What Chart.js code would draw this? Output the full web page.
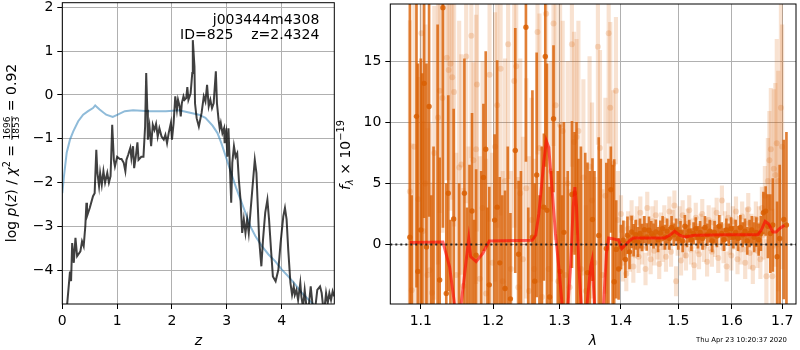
<!DOCTYPE html>
<html>
<head>
<meta charset="utf-8">
<script src="https://cdn.jsdelivr.net/npm/chart.js@4.4.0/dist/chart.umd.min.js"></script>
<style>
  html, body { margin: 0; padding: 0; background: #fff; }
  #wrap { position: relative; width: 800px; height: 350px; }
  canvas { position: absolute; top: 0; }
</style>
</head>
<body>
<div id="wrap">
  <canvas id="pz" width="336" height="350" style="left:0"></canvas>
  <canvas id="sp" width="464" height="350" style="left:336px"></canvas>
</div>
<script>
// ---- p(z) panel: [z, log p] ----
const pzCurve = [
  [0.08,-4.9],[0.14,-4.03],[0.16,-4.25],[0.18,-3.38],[0.21,-3.83],[0.24,-3.26],[0.27,-3.68],[0.33,-3.57],
  [0.36,-3.34],[0.39,-3.45],[0.42,-2.99],[0.44,-2.46],[0.45,-2.77],[0.50,-2.58],[0.56,-2.31],[0.59,-2.24],
  [0.62,-1.25],[0.64,-1.78],[0.67,-2.08],[0.69,-1.78],[0.72,-2.05],[0.75,-1.74],[0.78,-2.00],[0.82,-1.78],
  [0.85,-2.00],[0.88,-1.85],[0.89,-1.48],[0.91,-0.68],[0.94,-1.48],[0.96,-1.63],[1.00,-1.41],[1.05,-1.46],
  [1.08,-1.46],[1.12,-1.55],[1.15,-1.74],[1.17,-1.48],[1.20,-1.37],[1.24,-1.21],[1.26,-1.44],[1.29,-1.17],
  [1.31,-1.67],[1.34,-1.41],[1.37,-1.08],[1.39,-1.48],[1.44,-1.41],[1.48,-1.41],[1.51,-0.72],[1.53,0.50],
  [1.55,-0.34],[1.56,-1.02],[1.59,-0.72],[1.62,-1.17],[1.65,-0.68],[1.68,-0.80],[1.71,-0.66],[1.74,-0.95],
  [1.77,-0.76],[1.81,-0.95],[1.85,-1.02],[1.88,-0.91],[1.91,-1.10],[1.94,-0.87],[1.98,-0.64],[2.00,-1.02],
  [2.03,-0.64],[2.06,-0.03],[2.09,-0.34],[2.11,-0.11],[2.14,-0.26],[2.16,-0.49],[2.18,-0.19],[2.21,-0.03],
  [2.23,-0.11],[2.26,-0.07],[2.28,0.18],[2.30,-0.11],[2.34,0.04],[2.37,0.50],[2.38,1.25],[2.41,0.65],
  [2.42,-0.19],[2.45,-0.53],[2.49,-0.72],[2.54,-0.41],[2.58,-0.03],[2.61,-0.15],[2.64,0.23],[2.67,-0.26],
  [2.70,-0.11],[2.73,-0.30],[2.76,-0.19],[2.80,0.54],[2.82,-0.19],[2.85,-0.57],[2.87,-0.76],[2.89,-0.64],
  [2.92,-0.87],[2.95,-0.76],[2.96,-1.10],[2.99,-0.87],[3.01,-1.41],[3.03,-0.76],[3.06,-1.78],[3.08,-2.46],
  [3.10,-1.55],[3.13,-1.17],[3.16,-1.41],[3.19,-1.33],[3.22,-1.94],[3.25,-2.39],[3.28,-3.15],[3.31,-2.84],
  [3.34,-3.15],[3.37,-2.84],[3.40,-3.15],[3.43,-2.69],[3.47,-2.08],[3.51,-1.48],[3.54,-1.78],[3.57,-2.69],
  [3.59,-3.30],[3.63,-3.91],[3.66,-3.30],[3.70,-2.69],[3.74,-2.39],[3.77,-2.84],[3.81,-3.60],[3.84,-4.14],
  [3.89,-4.25],[3.94,-3.99],[3.98,-3.38],[4.03,-2.77],[4.06,-2.58],[4.09,-2.84],[4.12,-3.53],[4.16,-4.29],
  [4.19,-4.56],[4.22,-4.37],[4.24,-4.56],[4.27,-4.45],[4.30,-4.68],[4.34,-4.29],[4.36,-4.60],[4.39,-4.85],
  [4.42,-4.45],[4.45,-4.80],[4.48,-5.0],[4.53,-4.37],[4.56,-4.75],[4.60,-5.0],[4.65,-4.45],[4.70,-4.37],
  [4.73,-4.52],[4.77,-5.0],[4.81,-4.52],[4.84,-4.75],[4.87,-4.52],[4.90,-4.68],[4.93,-4.48],[4.96,-4.6]
];
const priorCurve = [
  [0.00,-2.24],[0.03,-1.86],[0.08,-1.32],[0.14,-1.02],[0.20,-0.83],[0.29,-0.60],[0.38,-0.45],[0.47,-0.37],
  [0.56,-0.30],[0.60,-0.24],[0.68,-0.33],[0.80,-0.45],[0.92,-0.50],[1.01,-0.45],[1.14,-0.37],[1.29,-0.35],
  [1.59,-0.37],[1.89,-0.37],[2.13,-0.35],[2.31,-0.40],[2.49,-0.45],[2.61,-0.52],[2.74,-0.70],[2.83,-0.87],
  [2.90,-1.10],[2.98,-1.40],[3.04,-1.63],[3.10,-1.86],[3.17,-2.12],[3.25,-2.39],[3.34,-2.69],[3.43,-3.00],
  [3.52,-3.22],[3.64,-3.45],[3.76,-3.64],[3.88,-3.79],[4.00,-3.98],[4.12,-4.14],[4.25,-4.33],[4.37,-4.52],
  [4.49,-4.67],[4.58,-4.78],[4.73,-4.97],[4.96,-5.24]
];
const zTicks = [0, 1, 2, 3, 4];
const logpTicks = [-4, -3, -2, -1, 0, 1, 2];

// ---- spectrum panel: [wavelength, flux, error] ----
const darkSpec = [
  [1.0856,0.6,20],[1.0880,-6,10],[1.0943,10.5,14],[1.0961,-2.2,17],[1.1000,1.2,14],[1.1020,-6,20],
  [1.1044,13.2,11],[1.1075,-0.2,15],[1.1110,11.3,9],[1.1140,-7,11],[1.1170,-6,14],[1.1225,-6,24],
  [1.1253,-2.9,10],[1.1297,19.4,18],[1.1343,-4.0,9],[1.1370,4.2,8],[1.1400,-7,9],[1.1444,2.1,9],
  [1.1520,-6,11],[1.1593,4.2,11],[1.1630,-7,10],[1.1665,-5.5,12],[1.1700,2.75,8],[1.1730,-6,8],
  [1.1758,-0.87,7],[1.1830,-7,13],[1.1862,5.5,6],[1.1895,7.8,8],[1.1920,-6,9],[1.1946,-3.3,8],
  [1.2023,2.0,7],[1.2060,3.06,12],[1.2097,-1.5,7],[1.2135,-6,10],[1.2175,-3.6,8],[1.2215,-6,14],
  [1.2254,-4.45,7],[1.2326,7.7,10],[1.2375,-0.8,6],[1.2410,-6,12],[1.2485,17.8,11],[1.2520,-6,9],
  [1.2583,0.6,12],[1.2618,-3.0,8],[1.2648,5.7,10],[1.2690,-6,10],[1.2725,-6,14],[1.2758,3.06,6],
  [1.2780,15.4,9],[1.2806,2.8,12],[1.2846,-4.3,9],[1.2875,-6,12],[1.2907,10.3,6],[1.2975,-6,12],
  [1.3010,-2.2,12],[1.3040,-6,10],[1.3070,1.0,9],[1.3130,-6,12],[1.3197,4.1,6],[1.3238,4.2,5],
  [1.3270,-6,16],[1.3300,-5,12],[1.3340,-6,14],[1.3410,-5.5,13],[1.3446,-2.3,9],[1.3485,-6,12],
  [1.3527,2.05,5],[1.3560,-6,12],[1.3630,0.75,8],[1.3665,-6,13],[1.3755,-0.33,7],[1.3790,-6,13],
  [1.3830,4.5,3.5],[1.3860,-5.5,12],[1.3886,-3.05,10],
  [1.3920,-0.4,4],[1.3960,-2.0,2.5],[1.4000,-0.2,1.8],[1.4040,0.35,1.6],[1.4075,-1.22,1.5],[1.4110,0.76,1.5],
  [1.4145,-0.6,1.4],[1.4180,1.03,1.3],[1.4215,0.35,1.3],[1.4250,0.8,1.2],[1.4290,0.2,1.2],[1.4325,0.9,1.2],
  [1.4360,0.57,1.1],[1.4400,1.22,1.1],[1.4440,0.62,1.1],[1.4480,1.17,1.1],[1.4520,0.9,1.0],[1.4560,0.7,1.0],
  [1.4600,1.03,1.0],[1.4640,0.4,1.0],[1.4680,0.95,1.0],[1.4720,1.3,1.0],[1.4760,0.6,1.0],[1.4800,1.1,1.0],
  [1.4840,0.5,0.9],[1.4880,1.4,0.9],[1.4920,0.8,0.9],[1.4960,1.2,0.9],[1.5000,0.5,0.9],[1.5040,1.0,0.9],
  [1.5080,0.3,0.9],[1.5120,1.5,0.9],[1.5160,0.7,0.9],[1.5200,1.1,0.9],[1.5240,0.4,0.9],[1.5280,0.9,0.9],
  [1.5320,1.3,0.9],[1.5360,0.6,0.9],[1.5400,1.0,0.9],[1.5445,0.5,0.9],[1.5490,1.4,0.9],[1.5535,0.8,0.9],
  [1.5580,1.1,0.9],[1.5625,0.3,0.9],[1.5670,1.0,0.9],[1.5715,0.7,0.9],[1.5760,1.5,0.9],[1.5805,0.9,0.9],
  [1.5850,0.4,0.9],[1.5895,1.2,0.9],[1.5940,0.8,0.9],[1.5985,1.3,0.9],[1.6030,0.6,0.9],[1.6075,1.0,1.0],
  [1.6120,0.5,1.0],[1.6165,1.4,1.0],[1.6210,0.8,1.0],[1.6255,1.1,1.0],[1.6300,0.3,1.1],[1.6345,0.9,1.1],
  [1.6390,1.2,1.1],[1.6435,0.6,1.2],[1.6480,1.0,1.2],[1.6525,0.4,1.3],[1.6570,0.9,1.4],[1.6620,2.6,1.7],
  [1.6665,2.74,2.0],[1.6710,1.5,2.6],[1.6760,0.9,3.2],[1.6810,1.6,3.8],[1.6897,-1.0,4.5],[1.6950,0.5,6],
  [1.7033,2.05,6.5],[1.7088,1.6,7.6]
];
const lightSpec = [
  [1.0856,4.34,14],[1.0880,-3.75,12],[1.0915,8,15],[1.0965,3.7,10],[1.1009,17.3,12],[1.1030,1.1,9],
  [1.1060,5.0,13],[1.1090,-2.5,12],[1.1119,-2.1,12],[1.1150,-3.95,9],[1.1180,7.5,12],[1.1230,10.4,12],
  [1.1253,12.6,10],[1.1290,12.0,11],[1.1350,15.3,10],[1.1375,14.3,9],[1.1400,14.8,12],[1.1425,13.7,10],
  [1.1450,12.5,11],[1.1480,-2.5,10],[1.1520,6.3,12],[1.1550,6.55,9],[1.1580,-3.4,8],[1.1618,15.4,12],
  [1.1650,-1.0,9],[1.1690,17.1,10],[1.1720,6.9,8],[1.1758,7.8,11],[1.1770,13.1,12],[1.1810,-2.8,10],
  [1.1850,3.0,12],[1.1900,-4.0,11],[1.1950,13.9,12],[1.1990,-1.5,9],[1.2030,8.0,11],[1.2060,11.4,10],
  [1.2110,14.4,12],[1.2140,-3.0,9],[1.2175,5.2,10],[1.2220,16.4,11],[1.2260,-2.0,8],[1.2310,13.4,12],
  [1.2340,14.6,10],[1.2370,-3.5,9],[1.2400,4.2,11],[1.2440,-1.2,10],[1.2490,4.6,9],[1.2530,-3.8,11],
  [1.2570,2.0,10],[1.2610,-2.0,9],[1.2660,17.4,10],[1.2690,7.9,11],[1.2730,-4.3,9],[1.2793,18.9,12],
  [1.2830,-2.0,10],[1.2870,6.0,9],[1.2907,18.1,10],[1.2940,11.4,11],[1.2980,-3.0,9],[1.3010,9.8,10],
  [1.3050,9.3,9],[1.3090,-2.5,8],[1.3130,5.0,10],[1.3160,-3.5,8],[1.3196,16.4,10],[1.3230,8.4,9],
  [1.3270,8.8,8],[1.3300,9.3,9],[1.3340,-2.0,7],[1.3380,5.5,8],[1.3420,-3.8,7],[1.3480,6.4,9],
  [1.3520,3.6,8],[1.3560,-1.5,7],[1.3616,16.2,8],[1.3650,7.9,8],[1.3690,-2.5,7],[1.3740,4.0,8],
  [1.3794,17.3,9],[1.3820,11.2,7],[1.3870,6.6,6],[1.3915,12.6,6],[1.3950,2.0,4],
  [1.4000,2.5,1.5],[1.4030,-1.5,1.5],[1.4060,0.5,1.4],[1.4090,-2.4,1.4],[1.4120,1.3,1.4],[1.4150,-0.8,1.4],
  [1.4180,2.2,1.4],[1.4210,-1.8,1.3],[1.4240,0.2,1.3],[1.4270,1.8,1.3],[1.4300,-1.0,1.3],[1.4330,2.6,1.3],
  [1.4360,-0.3,1.3],[1.4390,1.0,1.3],[1.4420,-2.0,1.3],[1.4450,3.0,1.3],[1.4480,0.4,1.3],[1.4510,-1.2,1.2],
  [1.4540,1.9,1.2],[1.4570,-0.5,1.2],[1.4600,2.4,1.2],[1.4630,0.0,1.2],[1.4660,-1.6,1.2],[1.4690,1.4,1.2],
  [1.4720,-0.2,1.2],[1.4750,2.0,1.2],[1.4780,-1.0,1.2],[1.4810,0.8,1.2],[1.4840,2.7,1.2],[1.4870,-0.6,1.2],
  [1.4900,1.6,1.2],[1.4930,3.2,1.2],[1.4960,-3.0,1.2],[1.4990,0.3,1.2],[1.5020,1.9,1.2],[1.5050,-1.3,1.2],
  [1.5080,2.4,1.2],[1.5110,0.1,1.2],[1.5140,-0.9,1.2],[1.5170,1.7,1.2],[1.5200,2.8,1.2],[1.5230,-0.4,1.2],
  [1.5260,0.9,1.2],[1.5290,-1.7,1.2],[1.5320,2.2,1.2],[1.5350,0.5,1.2],[1.5380,-0.8,1.2],[1.5410,1.3,1.2],
  [1.5440,2.5,1.2],[1.5470,-0.2,1.2],[1.5500,1.0,1.2],[1.5530,-1.4,1.2],[1.5560,2.0,1.2],[1.5590,0.7,1.2],
  [1.5620,-0.6,1.2],[1.5650,1.8,1.2],[1.5680,0.2,1.2],[1.5710,2.6,1.2],[1.5740,-1.1,1.2],[1.5770,1.2,1.2],
  [1.5810,3.6,1.2],[1.5840,-0.3,1.2],[1.5870,1.5,1.2],[1.5900,-1.8,1.2],[1.5930,2.2,1.2],[1.5960,0.4,1.2],
  [1.5990,-0.9,1.2],[1.6020,1.9,1.2],[1.6050,0.8,1.2],[1.6080,2.7,1.2],[1.6110,-1.2,1.2],[1.6140,1.1,1.2],
  [1.6170,-0.4,1.2],[1.6200,2.3,1.2],[1.6230,0.6,1.2],[1.6260,-1.5,1.3],[1.6290,1.7,1.3],[1.6320,2.9,1.3],
  [1.6350,-0.7,1.3],[1.6380,1.2,1.3],[1.6410,-1.9,1.3],[1.6440,0.9,1.4],[1.6470,2.1,1.4],[1.6500,-0.5,1.4],
  [1.6530,1.6,1.5],[1.6560,-1.2,1.6],[1.6590,3.0,1.7],[1.6620,0.8,2.0],[1.6650,4.0,2.4],[1.6680,-2.6,3.0],
  [1.6710,5.2,3.5],[1.6740,6.9,4.0],[1.6770,7.8,5.0],[1.6800,-2.6,5.5],[1.6830,6.2,6.5],[1.6860,5.7,7.5],
  [1.6890,8.3,8.5],[1.6920,5.2,9],[1.6975,11.2,11],[1.7000,8.0,10]
];
const modelCurve = [
  [1.0856,0.16],[1.1297,0.2],[1.1388,-1.82],[1.1456,-4.87],[1.1500,-7.5],[1.1548,-4.87],[1.1618,-1.3],
  [1.1654,0.47],[1.1680,-0.99],[1.1758,-1.4],[1.1850,-0.74],[1.1946,0.29],[1.2580,0.35],[1.2633,0.76],
  [1.2680,2.5],[1.2759,6.87],[1.2795,8.5],[1.2833,7.96],[1.2875,5.2],[1.2937,0.89],[1.2989,-1.82],
  [1.3040,-4.87],[1.3090,-7],[1.3135,-4.87],[1.3174,-1.82],[1.3216,3.07],[1.3243,4.7],[1.3270,3.07],
  [1.3307,-1.82],[1.3344,-4.87],[1.3390,-7],[1.3440,-4.87],[1.3496,-1.82],[1.3520,-1.3],[1.3560,-4.87],
  [1.3640,-7.5],[1.3710,-4.87],[1.3756,-0.74],[1.3794,0.54],[1.3877,0.46],[1.3960,0.35],[1.4015,-0.33],
  [1.4070,-0.06],[1.4154,0.35],[1.4210,0.54],[1.4756,0.54],[1.4845,0.76],[1.4935,1.09],[1.5025,0.76],
  [1.5116,0.62],[1.5300,0.76],[1.5925,0.81],[1.6510,0.81],[1.6576,1.17],[1.6656,1.9],[1.6723,1.71],
  [1.6810,1.03],[1.6877,1.03],[1.6945,1.3],[1.7047,1.57]
];
const lamTicks = [1.1, 1.2, 1.3, 1.4, 1.5, 1.6, 1.7];
const fluxTicks = [0, 5, 10, 15];
const zeroLevel = 0;

const FAM = '"DejaVu Sans", sans-serif';
const N14 = '14px ' + FAM, I14 = 'italic 14px ' + FAM;
const N10 = '9.8px ' + FAM, I10 = 'italic 9.8px ' + FAM, N9 = '9px ' + FAM;

Chart.defaults.font.family = FAM;
Chart.defaults.font.size = 14;
Chart.defaults.color = '#000';
Chart.defaults.animation = false;

function minus(v) { return v < 0 ? '\u2212' + Math.abs(v) : String(v); }

function axis(type, min, max, values, fmt, isY, size) {
  return {
    type: type, min: min, max: max, offset: false,
    afterBuildTicks: s => { s.ticks = values.map(v => ({ value: v })); },
    afterFit: s => {
      if (isY) { s.width = size; s.paddingTop = 0; s.paddingBottom = 0; }
      else { s.height = size; s.paddingLeft = 0; s.paddingRight = 0; }
    },
    ticks: { callback: fmt, padding: 4, maxRotation: 0, autoSkip: false, font: { size: 14 } },
    grid: { color: '#b0b0b0', lineWidth: 1, offset: false, drawTicks: true, tickLength: 5, tickColor: '#000', tickWidth: 1 },
    border: { display: false }
  };
}

// black box round the plot area
const frame = {
  id: 'frame',
  afterDatasetsDraw(chart) {
    const { ctx, chartArea: a } = chart;
    ctx.save();
    ctx.strokeStyle = '#000';
    ctx.lineWidth = 1;
    ctx.strokeRect(a.left, a.top, a.right - a.left, a.bottom - a.top);
    ctx.restore();
  }
};

// draws a rotated label made of runs (normal, italic, super/subscripts, a fraction)
function drawRuns(ctx, runs, cx, cy) {
  ctx.save();
  ctx.translate(cx, cy);
  ctx.rotate(-Math.PI / 2);
  ctx.fillStyle = '#000';
  ctx.textBaseline = 'alphabetic';
  const widths = runs.map(r => {
    ctx.font = r.font;
    if (r.frac) return Math.max(...r.frac.map(t => ctx.measureText(t).width)) + 2;
    return ctx.measureText(r.text).width;
  });
  let x = -widths.reduce((s, w) => s + w, 0) / 2;
  runs.forEach((r, i) => {
    ctx.font = r.font;
    if (r.frac) {
      const w = widths[i];
      ctx.textAlign = 'center';
      ctx.fillText(r.frac[0], x + w / 2, r.num);
      ctx.fillText(r.frac[1], x + w / 2, r.den);
      ctx.fillRect(x + 0.5, r.bar, w - 1, 0.8);
    } else {
      ctx.textAlign = 'left';
      ctx.fillText(r.text, x, r.dy);
    }
    x += widths[i];
  });
  ctx.restore();
}

const pzText = {
  id: 'pzText',
  afterDraw(chart) {
    const { ctx, chartArea: a } = chart;
    ctx.save();
    ctx.fillStyle = '#000';
    ctx.font = N14;
    ctx.textAlign = 'right';
    ctx.textBaseline = 'alphabetic';
    const xr = a.left + 0.945 * (a.right - a.left);
    ctx.fillText('j003444m4308', xr, a.top + 21.3);
    ctx.fillText('ID=825    z=2.4324', xr, a.top + 36.3);
    ctx.font = I14;
    ctx.textAlign = 'center';
    ctx.fillText('z', (a.left + a.right) / 2, 345);
    ctx.restore();
    drawRuns(ctx, [
      { text: 'log ', font: N14, dy: 5 },
      { text: 'p', font: I14, dy: 5 },
      { text: '(', font: N14, dy: 5 },
      { text: 'z', font: I14, dy: 5 },
      { text: ') / ', font: N14, dy: 5 },
      { text: '\u03c7', font: I14, dy: 5 },
      { text: '2', font: N10, dy: -1 },
      { text: ' = ', font: N14, dy: 5 },
      { frac: ['1696', '1853'], font: N9, num: -0.5, den: 8.5, bar: 0.8 },
      { text: ' = 0.92', font: N14, dy: 5 }
    ], 10.7, 153);
  }
};

const spText = {
  id: 'spText',
  afterDraw(chart) {
    const { ctx, chartArea: a } = chart;
    ctx.save();
    ctx.fillStyle = '#000';
    ctx.font = 'italic 14px ' + FAM;
    ctx.textAlign = 'center';
    ctx.fillText('\u03bb', 257, 345);
    ctx.font = '6.9px ' + FAM;
    ctx.textAlign = 'right';
    ctx.fillText('Thu Apr 23 10:20:37 2020', 451, 341.5);
    ctx.restore();
    drawRuns(ctx, [
      { text: 'f', font: I14, dy: 5 },
      { text: '\u03bb', font: I10, dy: 8 },
      { text: ' \u00d7 10', font: N14, dy: 5 },
      { text: '\u221219', font: N10, dy: -1 }
    ], 9, 155);
  }
};

// left: redshift probability
new Chart(document.getElementById('pz'), {
  type: 'line',
  data: {
    datasets: [
      {
        data: priorCurve.map(p => ({ x: p[0], y: p[1] })),
        borderColor: 'rgba(31,119,180,0.5)', borderWidth: 2, pointRadius: 0, order: 2
      },
      {
        data: pzCurve.map(p => ({ x: p[0], y: p[1] })),
        borderColor: 'rgba(0,0,0,0.75)', borderWidth: 2, pointRadius: 0, order: 1
      }
    ]
  },
  options: {
    responsive: false,
    devicePixelRatio: 1,
    layout: { padding: { top: 2.7, right: 1.7, bottom: 0, left: 0 } },
    plugins: { legend: { display: false }, tooltip: { enabled: false } },
    scales: {
      x: axis('linear', 0, 4.96, zTicks, v => minus(v), false, 46),
      y: axis('linear', -4.77, 2.105, logpTicks, v => minus(v), true, 62.3)
    }
  },
  plugins: [frame, pzText]
});

// right: 1D spectrum with error bars and model
const toBars = arr => arr.map(p => ({ x: p[0], y: [p[1] - p[2], p[1] + p[2]] }));
const toPts = arr => arr.map(p => ({ x: p[0], y: p[1] }));

new Chart(document.getElementById('sp'), {
  type: 'bar',
  data: {
    datasets: [
      {
        data: toBars(lightSpec), backgroundColor: 'rgba(217,95,2,0.18)', borderWidth: 0,
        barThickness: 3.5, grouped: false, order: 6
      },
      {
        type: 'line', data: toPts(lightSpec), showLine: false,
        pointRadius: 3, pointBackgroundColor: 'rgba(217,95,2,0.2)', pointBorderWidth: 0, order: 5
      },
      {
        data: toBars(darkSpec), backgroundColor: 'rgba(217,95,2,0.8)', borderWidth: 0,
        barThickness: 2, grouped: false, order: 4
      },
      {
        type: 'line', data: toPts(darkSpec), showLine: false,
        pointRadius: 2.7, pointBackgroundColor: 'rgba(217,95,2,0.85)', pointBorderWidth: 0, order: 3
      },
      {
        type: 'line', data: toPts(modelCurve),
        borderColor: 'rgba(255,0,0,0.6)', borderWidth: 3, pointRadius: 0, order: 2
      },
      {
        type: 'line', data: [{ x: 1.0603, y: zeroLevel }, { x: 1.7286, y: zeroLevel }],
        borderColor: '#222', borderWidth: 2, borderDash: [2, 3], pointRadius: 0, order: 1
      }
    ]
  },
  options: {
    responsive: false,
    devicePixelRatio: 1,
    layout: { padding: { top: 2.7, right: 1, bottom: 0, left: 0 } },
    plugins: { legend: { display: false }, tooltip: { enabled: false } },
    scales: {
      x: axis('logarithmic', 1.0603, 1.7286, lamTicks, v => Number(v).toFixed(1), false, 46),
      y: axis('linear', -4.87, 19.7, fluxTicks, v => minus(v), true, 54.3)
    }
  },
  plugins: [frame, spText]
});
</script>
</body>
</html>
